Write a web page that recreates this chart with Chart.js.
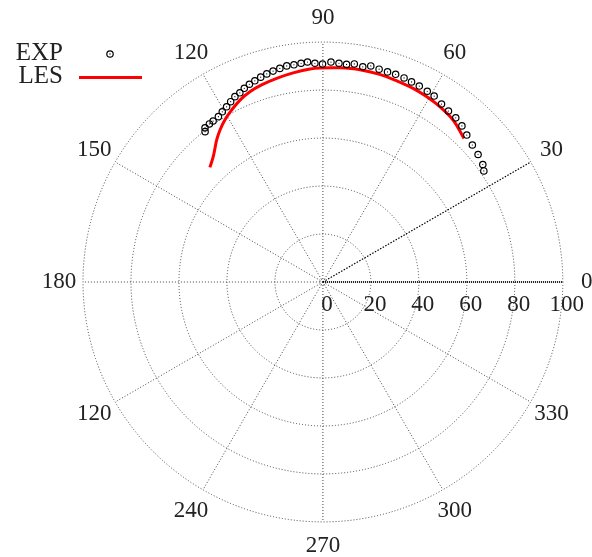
<!DOCTYPE html>
<html>
<head>
<meta charset="utf-8">
<script src="https://cdn.jsdelivr.net/npm/chart.js@4/dist/chart.umd.min.js"></script>
<style>
  html, body { margin: 0; padding: 0; background: #fff; }
  #wrap { width: 592px; height: 557px; position: relative; }
</style>
</head>
<body>
<div id="wrap"><canvas id="c" width="592" height="557"></canvas></div>
<script>
// Measured profile (angle in degrees, radius)
const expTheta = [34.6, 36.3, 39.4, 42.5, 45.6, 48.3, 51.0, 53.7, 56.3, 59.1, 61.3, 63.8, 66.1, 68.3, 70.7, 72.9,
                  75.2, 77.5, 79.5, 81.8, 83.8, 85.8, 87.9, 90.1, 92.1, 94.0, 95.7, 97.6, 99.5, 101.4, 103.3,
                  105.1, 106.9, 108.7, 110.4, 112.1, 113.7, 115.4, 117.1, 118.8, 120.6, 122.3, 124.3, 125.7, 127.4, 128.1];
const expR     = [81.5, 82.7, 83.7, 84.5, 85.7, 87.1, 88.0, 88.4, 89.1, 90.3, 90.6, 91.0, 91.2, 91.5, 91.7, 91.6,
                  91.7, 92.2, 91.2, 91.8, 91.2, 91.4, 91.7, 90.8, 91.2, 91.9, 91.6, 91.3, 91.3, 90.8, 90.3,
                  89.8, 89.2, 88.5, 87.9, 87.1, 86.1, 85.5, 84.4, 83.3, 82.4, 81.5, 81.2, 81.1, 80.9, 79.6];

// Simulated profile
const lesTheta = [45.5, 51.2, 56.3, 60.8, 65.0, 69.9, 74.7, 80.1, 85.5, 90.8, 93.5, 98.1, 102.8, 107.3, 111.0,
                  114.5, 118.0, 121.2, 124.1, 126.8, 131.2, 134.6];
const lesR     = [83.9, 86.6, 87.8, 88.5, 89.0, 89.3, 89.7, 89.8, 89.5, 89.2, 88.9, 88.0, 87.0, 86.0, 84.9,
                  83.3, 81.1, 78.9, 76.5, 73.9, 69.4, 67.1];

// Axis labels
const angleTicks  = [0, 30, 60, 90, 120, 150, 180, 210, 240, 270, 300, 330];
const angleLabels = ['0', '30', '60', '90', '120', '150', '180', '120', '240', '270', '300', '330'];
const radialTicks = [0, 20, 40, 60, 80, 100];
const seriesNames = ['EXP', 'LES'];

const RMAX = 100;
const LABEL_R = 110;
const FONT = '23px "Liberation Serif", "Times New Roman", serif';
const KEY_FONT = '25px "Liberation Serif", "Times New Roman", serif';
const TEXT_COLOR = '#222';

const toXY = (th, r) => th.map((t, i) => ({
  x: r[i] * Math.cos(t * Math.PI / 180),
  y: r[i] * Math.sin(t * Math.PI / 180)
}));

const polarGrid = {
  id: 'polarGrid',
  beforeDatasetsDraw(chart) {
    const ctx = chart.ctx;
    const xs = chart.scales.x, ys = chart.scales.y;
    const cx = xs.getPixelForValue(0), cy = ys.getPixelForValue(0);
    const px = v => xs.getPixelForValue(v) - cx;
    const spoke = a => {
      const t = a * Math.PI / 180;
      ctx.beginPath();
      ctx.moveTo(cx, cy);
      ctx.lineTo(xs.getPixelForValue(RMAX * Math.cos(t)), ys.getPixelForValue(RMAX * Math.sin(t)));
      ctx.stroke();
    };
    ctx.save();
    // rings
    ctx.lineWidth = 1;
    ctx.strokeStyle = '#444';
    ctx.setLineDash([1, 2]);
    radialTicks.forEach(r => {
      if (r === 0) return;
      ctx.beginPath();
      ctx.arc(cx, cy, px(r), 0, Math.PI * 2);
      ctx.stroke();
    });
    ctx.beginPath();
    ctx.arc(cx, cy, 3, 0, Math.PI * 2);
    ctx.stroke();
    // spokes
    angleTicks.forEach(a => { if (a !== 0 && a !== 30) spoke(a); });
    // 30 degree spoke
    ctx.strokeStyle = '#000';
    ctx.lineWidth = 1.3;
    ctx.setLineDash([1.5, 1.5]);
    spoke(30);
    // radial axis along 0 degrees
    ctx.lineWidth = 2;
    ctx.strokeStyle = '#111';
    ctx.setLineDash([1, 1]);
    spoke(0);
    ctx.setLineDash([]);

    // angle labels
    ctx.font = FONT;
    ctx.fillStyle = TEXT_COLOR;
    ctx.textAlign = 'center';
    ctx.textBaseline = 'middle';
    angleTicks.forEach((a, i) => {
      const t = a * Math.PI / 180;
      ctx.fillText(angleLabels[i],
        xs.getPixelForValue(LABEL_R * Math.cos(t)),
        ys.getPixelForValue(LABEL_R * Math.sin(t)));
    });
    // radial tick labels
    radialTicks.forEach(r => {
      ctx.fillText(String(r), xs.getPixelForValue(r) + 4, cy + 23);
    });
    ctx.restore();
  },
  afterDraw(chart) {
    // key in the upper left corner
    const ctx = chart.ctx;
    ctx.save();
    ctx.font = KEY_FONT;
    ctx.fillStyle = TEXT_COLOR;
    ctx.textAlign = 'right';
    ctx.textBaseline = 'middle';
    ctx.fillText(seriesNames[0], 63, 53);
    ctx.fillText(seriesNames[1], 63, 76);
    ctx.strokeStyle = '#000';
    ctx.lineWidth = 1.2;
    ctx.beginPath();
    ctx.arc(110, 54, 3.2, 0, Math.PI * 2);
    ctx.stroke();
    ctx.fillStyle = '#000';
    ctx.beginPath();
    ctx.arc(110, 54, 0.7, 0, Math.PI * 2);
    ctx.fill();
    ctx.strokeStyle = '#ff0000';
    ctx.lineWidth = 3;
    ctx.beginPath();
    ctx.moveTo(79, 77.5);
    ctx.lineTo(142, 77.5);
    ctx.stroke();
    ctx.restore();
  }
};

const expPoints = toXY(expTheta, expR);

new Chart(document.getElementById('c'), {
  type: 'scatter',
  data: {
    datasets: [
      {
        label: seriesNames[1],
        data: toXY(lesTheta, lesR),
        showLine: true,
        borderColor: '#ff0000',
        borderWidth: 3,
        pointRadius: 0,
        tension: 0.4,
        fill: false,
        order: 3
      },
      {
        label: seriesNames[0],
        data: expPoints,
        showLine: false,
        pointStyle: 'circle',
        pointRadius: 3.2,
        borderWidth: 1.2,
        borderColor: '#000',
        backgroundColor: 'rgba(0,0,0,0)',
        order: 2
      },
      {
        label: seriesNames[0] + ' centre',
        data: expPoints,
        showLine: false,
        pointStyle: 'circle',
        pointRadius: 0.6,
        borderWidth: 0,
        backgroundColor: '#000',
        order: 1
      }
    ]
  },
  options: {
    responsive: false,
    animation: false,
    events: [],
    layout: { padding: { left: 59, right: 5, top: 18, bottom: 11 } },
    plugins: { legend: { display: false }, tooltip: { enabled: false } },
    scales: {
      x: { type: 'linear', min: -110, max: 110, display: false },
      y: { type: 'linear', min: -110, max: 110, display: false }
    }
  },
  plugins: [polarGrid]
});
</script>
</body>
</html>
